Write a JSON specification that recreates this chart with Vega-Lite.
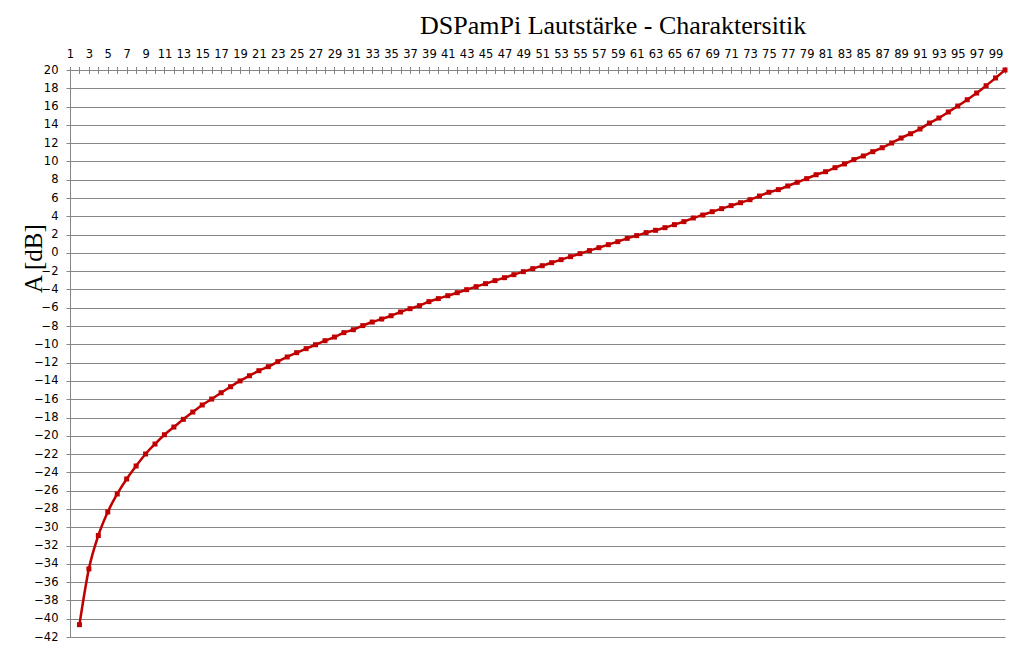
{
  "$schema": "https://vega.github.io/schema/vega-lite/v6.json",
  "width": 935,
  "height": 567,
  "autosize": {"type": "none"},
  "padding": {"left": 70, "top": 70, "right": 18, "bottom": 12},
  "background": "white",
  "title": {
    "text": "DSPamPi Lautstärke - Charaktersitik",
    "font": "Liberation Serif",
    "fontSize": 26,
    "fontWeight": "normal",
    "color": "black",
    "anchor": "start",
    "frame": "group",
    "dx": 350,
    "dy": 23,
    "baseline": "alphabetic",
    "offset": 12
  },
  "data": {
    "values": [
      {"step": 2, "dB": -40.65}, {"step": 3, "dB": -34.55}, {"step": 4, "dB": -30.9}, {"step": 5, "dB": -28.33},
      {"step": 6, "dB": -26.36}, {"step": 7, "dB": -24.72}, {"step": 8, "dB": -23.3}, {"step": 9, "dB": -21.99},
      {"step": 10, "dB": -20.9}, {"step": 11, "dB": -19.88}, {"step": 12, "dB": -19.04}, {"step": 13, "dB": -18.2},
      {"step": 14, "dB": -17.4}, {"step": 15, "dB": -16.63}, {"step": 16, "dB": -15.98}, {"step": 17, "dB": -15.29},
      {"step": 18, "dB": -14.63}, {"step": 19, "dB": -14.0}, {"step": 20, "dB": -13.43}, {"step": 21, "dB": -12.88},
      {"step": 22, "dB": -12.44}, {"step": 23, "dB": -11.89}, {"step": 24, "dB": -11.38}, {"step": 25, "dB": -10.91},
      {"step": 26, "dB": -10.47}, {"step": 27, "dB": -10.04}, {"step": 28, "dB": -9.6}, {"step": 29, "dB": -9.2},
      {"step": 30, "dB": -8.72}, {"step": 31, "dB": -8.4}, {"step": 32, "dB": -7.95}, {"step": 33, "dB": -7.56},
      {"step": 34, "dB": -7.23}, {"step": 35, "dB": -6.87}, {"step": 36, "dB": -6.46}, {"step": 37, "dB": -6.1},
      {"step": 38, "dB": -5.77}, {"step": 39, "dB": -5.33}, {"step": 40, "dB": -5.0}, {"step": 41, "dB": -4.68},
      {"step": 42, "dB": -4.35}, {"step": 43, "dB": -4.02}, {"step": 44, "dB": -3.69}, {"step": 45, "dB": -3.36},
      {"step": 46, "dB": -3.03}, {"step": 47, "dB": -2.71}, {"step": 48, "dB": -2.38}, {"step": 49, "dB": -2.05},
      {"step": 50, "dB": -1.72}, {"step": 51, "dB": -1.4}, {"step": 52, "dB": -1.07}, {"step": 53, "dB": -0.74},
      {"step": 54, "dB": -0.41}, {"step": 55, "dB": -0.08}, {"step": 56, "dB": 0.25}, {"step": 57, "dB": 0.57},
      {"step": 58, "dB": 0.9}, {"step": 59, "dB": 1.23}, {"step": 60, "dB": 1.59}, {"step": 61, "dB": 1.89},
      {"step": 62, "dB": 2.22}, {"step": 63, "dB": 2.47}, {"step": 64, "dB": 2.76}, {"step": 65, "dB": 3.09},
      {"step": 66, "dB": 3.42}, {"step": 67, "dB": 3.82}, {"step": 68, "dB": 4.14}, {"step": 69, "dB": 4.51},
      {"step": 70, "dB": 4.84}, {"step": 71, "dB": 5.17}, {"step": 72, "dB": 5.49}, {"step": 73, "dB": 5.82},
      {"step": 74, "dB": 6.22}, {"step": 75, "dB": 6.63}, {"step": 76, "dB": 6.92}, {"step": 77, "dB": 7.32},
      {"step": 78, "dB": 7.72}, {"step": 79, "dB": 8.12}, {"step": 80, "dB": 8.55}, {"step": 81, "dB": 8.88},
      {"step": 82, "dB": 9.32}, {"step": 83, "dB": 9.73}, {"step": 84, "dB": 10.2}, {"step": 85, "dB": 10.6},
      {"step": 86, "dB": 11.07}, {"step": 87, "dB": 11.5}, {"step": 88, "dB": 12.02}, {"step": 89, "dB": 12.56},
      {"step": 90, "dB": 13.03}, {"step": 91, "dB": 13.55}, {"step": 92, "dB": 14.2}, {"step": 93, "dB": 14.75},
      {"step": 94, "dB": 15.41}, {"step": 95, "dB": 16.06}, {"step": 96, "dB": 16.75}, {"step": 97, "dB": 17.48},
      {"step": 98, "dB": 18.28}, {"step": 99, "dB": 19.13}, {"step": 100, "dB": 20.0}
    ]
  },
  "mark": {
    "type": "line",
    "color": "#C00000",
    "strokeWidth": 2.5,
    "interpolate": "monotone",
    "point": {"shape": "square", "size": 25, "filled": true, "color": "#C00000", "opacity": 1}
  },
  "encoding": {
    "x": {
      "field": "step",
      "type": "quantitative",
      "scale": {"domain": [1, 100], "nice": false, "zero": false},
      "axis": {
        "orient": "top",
        "title": null,
        "values": [1,2,3,4,5,6,7,8,9,10,11,12,13,14,15,16,17,18,19,20,21,22,23,24,25,26,27,28,29,30,31,32,33,34,35,36,37,38,39,40,41,42,43,44,45,46,47,48,49,50,51,52,53,54,55,56,57,58,59,60,61,62,63,64,65,66,67,68,69,70,71,72,73,74,75,76,77,78,79,80,81,82,83,84,85,86,87,88,89,90,91,92,93,94,95,96,97,98,99,100],
        "labelExpr": "datum.value % 2 == 1 ? datum.label : ''",
        "grid": false,
        "domain": false,
        "offset": -3.5,
        "tickSize": 7,
        "tickColor": "#868686",
        "tickWidth": 1,
        "labelFont": "DejaVu Sans",
        "labelFontSize": 11.5,
        "labelColor": "black",
        "labelPadding": 7,
        "labelAngle": 0,
        "labelOverlap": false,
        "labelFlush": false,
        "labelBound": false
      }
    },
    "y": {
      "field": "dB",
      "type": "quantitative",
      "scale": {"domain": [-42, 20], "nice": false, "zero": false},
      "axis": {
        "title": "A [dB]",
        "values": [-42,-40,-38,-36,-34,-32,-30,-28,-26,-24,-22,-20,-18,-16,-14,-12,-10,-8,-6,-4,-2,0,2,4,6,8,10,12,14,16,18,20],
        "grid": true,
        "gridColor": "#868686",
        "gridOpacity": 1,
        "gridWidth": 1,
        "domainColor": "#868686",
        "domainWidth": 1,
        "tickColor": "#868686",
        "tickSize": 4,
        "labelPadding": 8,
        "labelFont": "DejaVu Sans",
        "labelFontSize": 11.5,
        "labelColor": "black",
        "labelOverlap": false,
        "labelFlush": false,
        "titleFont": "Liberation Serif",
        "titleFontSize": 25,
        "titleFontWeight": "normal",
        "titleColor": "black",
        "titleX": -37,
        "titleY": 188,
        "titleAngle": -90,
        "titleAlign": "center",
        "titleBaseline": "middle"
      }
    }
  },
  "config": {"view": {"stroke": null}}
}
